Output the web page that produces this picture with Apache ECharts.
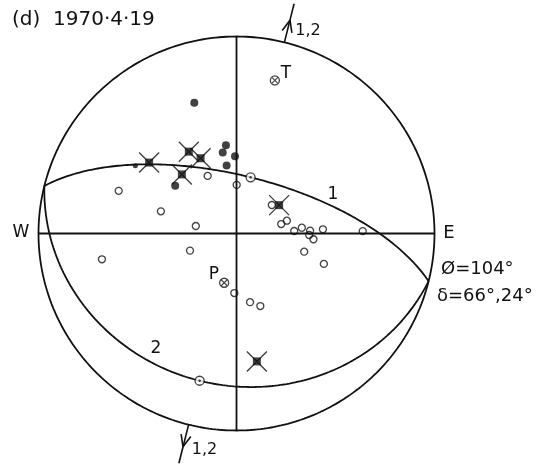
<!DOCTYPE html>
<html>
<head>
<meta charset="utf-8">
<script src="https://cdn.jsdelivr.net/npm/echarts@6/dist/echarts.min.js"></script>
<style>
  html, body { margin: 0; padding: 0; background: #fff; }
  #chart { width: 547px; height: 467px; }
</style>
</head>
<body>
<div id="chart"></div>
<script>
// Fault-plane solution, 1970-4-19: equal-area net, lower hemisphere.
const title = '(d)  1970·4·19';
const strike = 104;            // φ, degrees
const dips = [66, 24];         // δ of nodal planes 1 and 2
const planeNames = ['1', '2'];

// First-motion readings: [azimuth°, take-off angle°]
const compressions = [
  [342.2, 59.1], [353.2, 37.2], [350.4, 34.3], [358.9, 32.2],
  [351.8, 28.6], [308.1, 32.3]
];
const compressionsWeak = [[303.9, 51.6]];
const crossedStations = [
  [309.2, 47.5], [329.9, 39.7], [334.6, 34.8], [317.4, 33.5],
  [56.2, 21.1], [171.0, 55.4]
];
const dilatations = [
  [333.5, 26.7], [0.2, 20.1], [290.0, 53.2], [286.4, 32.7],
  [280.5, 17.0], [249.7, 20.4], [259.1, 58.6], [182.1, 24.7],
  [168.9, 29.1], [161.9, 31.8], [51.0, 18.7], [78.0, 18.8],
  [75.7, 21.4], [87.5, 23.8], [84.9, 27.1], [87.8, 30.5],
  [91.2, 30.1], [94.3, 32.0], [87.2, 36.0], [105.1, 29.0],
  [109.3, 38.6], [88.9, 53.6]
];

const D2R = Math.PI / 180;
const R2D = 180 / Math.PI;

// azimuth / incidence -> net coordinates (unit radius)
function proj(az, inc) {
  const r = Math.SQRT2 * Math.sin(inc * D2R / 2);
  return [r * Math.sin(az * D2R), r * Math.cos(az * D2R)];
}
function projLine(trend, plunge) { return proj(trend, 90 - plunge); }
function vec(trend, plunge) {
  const t = trend * D2R, p = plunge * D2R;
  return [Math.cos(p) * Math.cos(t), Math.cos(p) * Math.sin(t), Math.sin(p)];
}
function toLine(v) {
  let [n, e, d] = v;
  if (d < 0) { n = -n; e = -e; d = -d; }
  const len = Math.hypot(n, e, d);
  return [Math.atan2(e, n) * R2D, Math.asin(d / len) * R2D];
}

// plane 1 dips toward strike-90, plane 2 toward strike+90
const dipDirs = [strike - 90, strike + 90];

function planeCurve(dd, dip) {
  const s = (dd - 90) * D2R, d = dd * D2R, dp = dip * D2R;
  const pts = [];
  for (let k = 0; k <= 180; k++) {
    const t = k * D2R;
    const v = [
      Math.cos(t) * Math.cos(s) + Math.sin(t) * Math.cos(d) * Math.cos(dp),
      Math.cos(t) * Math.sin(s) + Math.sin(t) * Math.sin(d) * Math.cos(dp),
      Math.sin(t) * Math.sin(dp)
    ];
    const [tr, pl] = toLine(v);
    pts.push(projLine(tr, pl));
  }
  return pts;
}

const primitive = [];
for (let a = 0; a <= 360; a++) primitive.push([Math.sin(a * D2R), Math.cos(a * D2R)]);

// poles of the nodal planes; each is the slip vector on the other plane
const poles = dipDirs.map((dd, i) => vec(dd + 180, 90 - dips[i]));
const slipPoints = poles.map(v => { const [tr, pl] = toLine(v); return projLine(tr, pl); });
const pAxis = toLine([poles[0][0] + poles[1][0], poles[0][1] + poles[1][1], poles[0][2] + poles[1][2]]);
const tAxis = toLine([poles[1][0] - poles[0][0], poles[1][1] - poles[0][1], poles[1][2] - poles[0][2]]);
const pPoint = projLine(pAxis[0], pAxis[1]);
const tPoint = projLine(tAxis[0], tAxis[1]);

// dip-direction arrows on the primitive circle
const UNIT = 198;
function arrowParts(az) {
  const a = az * D2R;
  const u = [Math.sin(a), Math.cos(a)], w = [Math.cos(a), -Math.sin(a)];
  const at = (r, off) => [u[0] * r + w[0] * off, u[1] * r + w[1] * off];
  return {
    shaft: [at(1, 0), at(1 + 40 / UNIT, 0)],
    head: [at(1 + 11 / UNIT, -5 / UNIT), at(1 + 23 / UNIT, 0), at(1 + 11 / UNIT, 5 / UNIT)]
  };
}

const BLACK = '#111';
function lineSeries(data, width) {
  return {
    type: 'line', data: data, symbol: 'none', silent: true, smooth: false, clip: false,
    lineStyle: { color: BLACK, width: width || 1.8 }, z: 2, animation: false
  };
}

const series = [
  lineSeries(primitive),
  lineSeries([[-1, 0], [1, 0]]),
  lineSeries([[0, -1], [0, 1]]),
  ...dipDirs.map((dd, i) => lineSeries(planeCurve(dd, dips[i]))),
];
dipDirs.forEach(dd => {
  const p = arrowParts(dd);
  series.push(lineSeries(p.shaft, 1.6));
  series.push(lineSeries(p.head, 1.6));
});

const circleOpen = { color: 'rgba(0,0,0,0)', borderColor: BLACK, borderWidth: 1.3 };
series.push(
  { type: 'scatter', data: dilatations.map(d => proj(d[0], d[1])), symbol: 'circle',
    symbolSize: 7, itemStyle: circleOpen, z: 5, silent: true },
  { type: 'scatter', data: compressions.map(d => proj(d[0], d[1])), symbol: 'circle',
    symbolSize: 8, itemStyle: { color: BLACK }, z: 5, silent: true },
  { type: 'scatter', data: compressionsWeak.map(d => proj(d[0], d[1])), symbol: 'circle',
    symbolSize: 5, itemStyle: { color: BLACK }, z: 5, silent: true },
  { type: 'scatter', data: crossedStations.map(d => proj(d[0], d[1])), symbol: 'rect',
    symbolSize: 8, itemStyle: { color: BLACK }, z: 5, silent: true },
  { type: 'scatter', data: crossedStations.map(d => proj(d[0], d[1])),
    symbol: 'path://M0,0L10,10M10,0L0,10', symbolSize: 20,
    itemStyle: { color: 'none', borderColor: BLACK, borderWidth: 1.4 }, z: 5, silent: true },
  // slip vectors
  { type: 'scatter', data: slipPoints, symbol: 'circle', symbolSize: 9,
    itemStyle: { color: '#fff', borderColor: BLACK, borderWidth: 1.3 }, z: 6, silent: true },
  { type: 'scatter', data: slipPoints, symbol: 'circle', symbolSize: 2.5,
    itemStyle: { color: BLACK }, z: 7, silent: true },
  // P and T axes
  { type: 'scatter', data: [pPoint, tPoint], symbol: 'circle', symbolSize: 9,
    itemStyle: { color: '#fff', borderColor: BLACK, borderWidth: 1.3 }, z: 6, silent: true },
  { type: 'scatter', data: [pPoint, tPoint], symbol: 'path://M0,0L10,10M10,0L0,10',
    symbolSize: 6, itemStyle: { color: 'none', borderColor: BLACK, borderWidth: 1.1 }, z: 7, silent: true }
);

const FONT = '"DejaVu Sans", sans-serif';
function txt(x, y, s, size, align) {
  return {
    type: 'text', x: x, y: y, silent: true,
    style: { text: s, fill: BLACK, font: (size || 17) + 'px ' + FONT,
             textAlign: align || 'center', textVerticalAlign: 'middle' }
  };
}

const chart = echarts.init(document.getElementById('chart'), null, { renderer: 'canvas' });
chart.setOption({
  animation: false,
  backgroundColor: '#fff',
  grid: { left: 38.5, top: 36.5, width: 396, height: 394, containLabel: false },
  xAxis: { type: 'value', min: -1, max: 1, show: false },
  yAxis: { type: 'value', min: -1, max: 1, show: false },
  series: series,
  graphic: [
    txt(12, 20, title, 20, 'left'),
    txt(21, 233, 'W', 17),
    txt(449, 233.5, 'E', 18),
    txt(441, 269, 'Ø=104°', 18, 'left'),
    txt(437, 296.5, 'δ=66°,24°', 18, 'left'),
    txt(333, 195, planeNames[0], 17),
    txt(156, 348.5, planeNames[1], 17),
    txt(286, 73.5, 'T', 17),
    txt(214, 275, 'P', 17),
    txt(308, 31, '1,2', 16),
    txt(204.5, 449.5, '1,2', 16)
  ]
});
</script>
</body>
</html>
